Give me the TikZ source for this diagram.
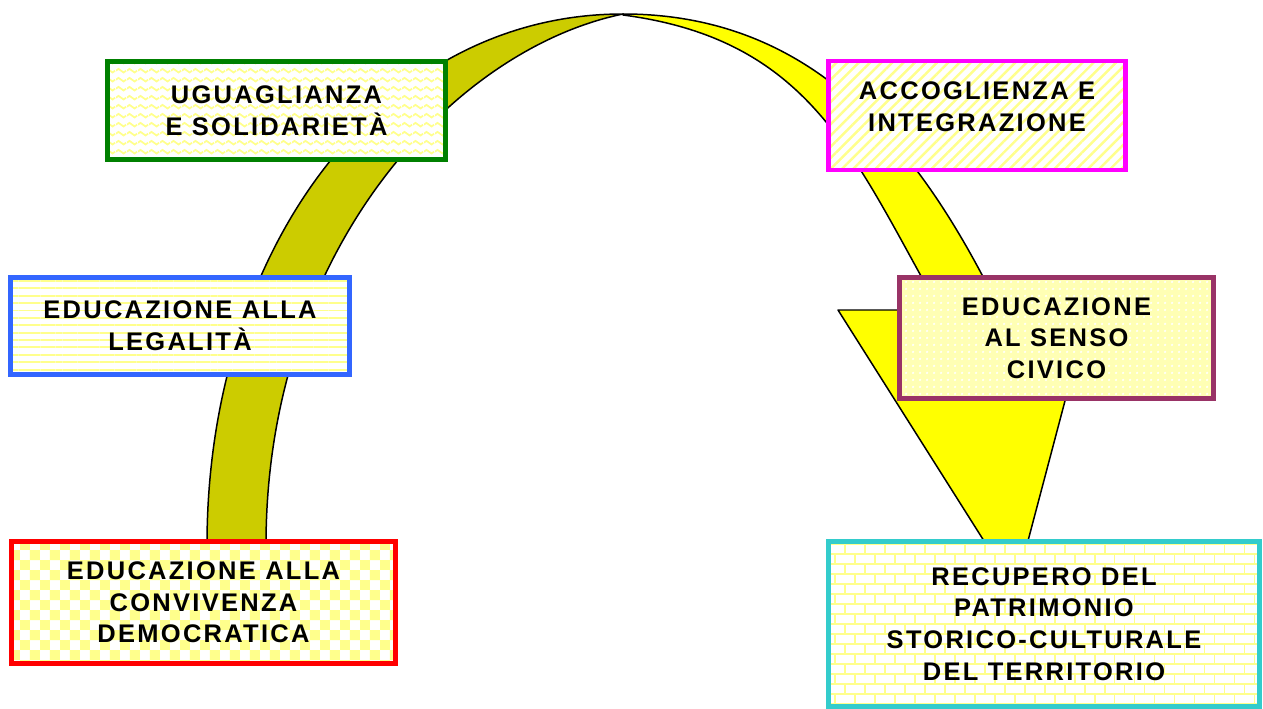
\documentclass[tikz,border=0pt]{standalone}
\usepackage{fontspec}
\setmainfont{Liberation Sans}[LetterSpace=9]
\usetikzlibrary{patterns,patterns.meta}
\definecolor{verde}{RGB}{0,128,0}
\definecolor{blu}{RGB}{51,102,255}
\definecolor{rosso}{RGB}{255,0,0}
\definecolor{fucsia}{RGB}{255,0,255}
\definecolor{prugna}{RGB}{153,51,102}
\definecolor{ciano}{RGB}{51,204,204}
\definecolor{oliva}{RGB}{204,204,0}
\definecolor{giallo}{RGB}{255,255,0}
\definecolor{giallino}{RGB}{255,255,140}
\pgfdeclarepatternformonly{onde}{\pgfpointorigin}{\pgfpoint{6pt}{5pt}}{\pgfpoint{6pt}{5pt}}{
  \pgfsetlinewidth{1pt}
  \pgfpathmoveto{\pgfpoint{0pt}{2.5pt}}
  \pgfpathcurveto{\pgfpoint{1pt}{3.9pt}}{\pgfpoint{2pt}{3.9pt}}{\pgfpoint{3pt}{2.5pt}}
  \pgfpathcurveto{\pgfpoint{4pt}{1.1pt}}{\pgfpoint{5pt}{1.1pt}}{\pgfpoint{6pt}{2.5pt}}
  \pgfusepath{stroke}}
\tikzset{
  tema/.style={draw=#1, line width=2.8pt, align=center, inner sep=0pt,
    preaction={fill=white}, pattern color=giallino,
    font=\bfseries\fontsize{14.5}{18}\selectfont},
  freccia/.style={draw=black, line width=0.85pt, line join=round}
}
\begin{document}
\begin{tikzpicture}[x=0.02cm, y=-0.02cm]
\useasboundingbox (0,0) rectangle (1263,709);
\filldraw[freccia, fill=oliva] (207,545) .. controls (207,250) and (380,14) .. (623,14)
  .. controls (453,49) and (266,250) .. (266,545) -- cycle;
\filldraw[freccia, fill=giallo] (623,14) .. controls (823,14) and (926,160) .. (1000,310)
  -- (1089,310) -- (1015,590) -- (838,310) -- (940,310)
  .. controls (854.5,160) and (813,40) .. (623,15) -- cycle;
\node[tema=verde, minimum width=6.76cm, minimum height=1.96cm, pattern=onde]
  (ugua) at (276.5,110.5) {UGUAGLIANZA\\E SOLIDARIETÀ};
\node[tema=blu, minimum width=6.78cm, minimum height=1.94cm,
  pattern={Lines[angle=0, distance=4.2pt, line width=1.1pt]}]
  (legal) at (180,326) {EDUCAZIONE ALLA\\LEGALITÀ};
\node[tema=rosso, minimum width=7.68cm, minimum height=2.44cm, pattern=checkerboard]
  (conv) at (203.5,602.5) {EDUCAZIONE ALLA\\CONVIVENZA\\DEMOCRATICA};
\node[tema=fucsia, minimum width=5.94cm, minimum height=2.18cm,
  pattern={Lines[angle=45, distance=4.5pt, line width=1.4pt]}]
  (accog) at (977,115.5) {\raisebox{0pt}[0pt][0pt]{\begin{tabular}{@{}c@{}}ACCOGLIENZA E\\INTEGRAZIONE\end{tabular}}};
\node[tema=prugna, minimum width=6.28cm, minimum height=2.42cm,
  preaction={fill=giallino!65}, pattern={Dots[distance=4pt, radius=0.8pt]}, pattern color=white]
  (civico) at (1056.5,338) {EDUCAZIONE\\AL SENSO\\CIVICO};
\node[tema=ciano, minimum width=8.62cm, minimum height=3.3cm, pattern=bricks]
  (patrim) at (1044,624) {RECUPERO DEL\\PATRIMONIO\\STORICO-CULTURALE\\DEL TERRITORIO};
\end{tikzpicture}
\end{document}
